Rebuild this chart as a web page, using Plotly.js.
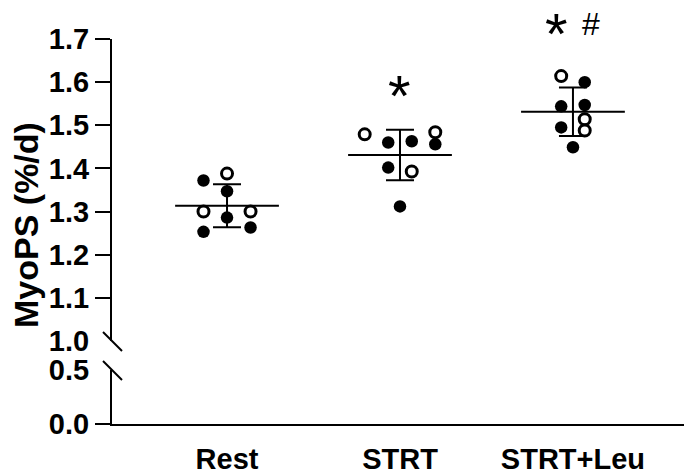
<!DOCTYPE html>
<html>
<head>
<meta charset="utf-8">
<script src="https://cdn.plot.ly/plotly-3.0.1.min.js"></script>
<style>html,body{margin:0;padding:0;background:#fff;}#chart{width:684px;height:476px;}</style>
</head>
<body>
<div id="chart"></div>
<script>
// ---- data ----
const categories = ['Rest', 'STRT', 'STRT+Leu'];
const restValues = [1.372, 1.388, 1.347, 1.300, 1.286, 1.300, 1.253, 1.263];
const restOpen   = [false, true, false, true, false, true, false, false];
const restSlots  = [-1, 0, 0, -1, 0, 1, -1, 1];
const strtValues = [1.479, 1.460, 1.463, 1.484, 1.456, 1.402, 1.393, 1.312];
const strtOpen   = [true, false, false, true, false, false, true, false];
const strtSlots  = [-1.5, -0.5, 0.5, 1.5, 1.5, -0.5, 0.5, 0];
const leuValues  = [1.614, 1.600, 1.544, 1.547, 1.514, 1.495, 1.488, 1.449];
const leuOpen    = [true, false, false, false, true, false, true, false];
const leuSlots   = [-0.5, 0.5, -0.5, 0.5, 0.5, -0.5, 0.5, 0];
const topTicks = [1.0, 1.1, 1.2, 1.3, 1.4, 1.5, 1.6, 1.7];
const bottomTicks = [0.0, 0.5];

const groups = [
  {values: restValues, open: restOpen, slots: restSlots},
  {values: strtValues, open: strtOpen, slots: strtSlots},
  {values: leuValues,  open: leuOpen,  slots: leuSlots}
];

const FONT = 'Liberation Sans, Arial, Helvetica, sans-serif';
const slotW = 0.136;     // x units per slot
const meanHalf = 0.30;   // half-length of mean line

function mean(a){ return a.reduce((s,v)=>s+v,0)/a.length; }
function sd(a){ const m=mean(a); return Math.sqrt(a.reduce((s,v)=>s+(v-m)*(v-m),0)/(a.length-1)); }

const traces = [];
// empty trace so the lower (0–0.5) axis segment is registered and drawn
traces.push({x:[], y:[], xaxis:'x', yaxis:'y', mode:'markers', hoverinfo:'skip'});
groups.forEach((g, i) => {
  const m = mean(g.values), s = sd(g.values);
  traces.push({x:[i-meanHalf, i+meanHalf], y:[m, m], mode:'lines', xaxis:'x', yaxis:'y2',
    line:{color:'#000', width:2}, hoverinfo:'skip', cliponaxis:false});
  traces.push({x:[i], y:[m], mode:'markers', xaxis:'x', yaxis:'y2', marker:{size:1, color:'rgba(0,0,0,0)'},
    error_y:{type:'data', array:[s], visible:true, color:'#000', thickness:2, width:14}, hoverinfo:'skip', cliponaxis:false});
});
groups.forEach((g, i) => {
  const fx=[], fy=[], ox=[], oy=[];
  g.values.forEach((v, k) => {
    const x = i + g.slots[k]*slotW;
    if (g.open[k]) { ox.push(x); oy.push(v); } else { fx.push(x); fy.push(v); }
  });
  traces.push({x:fx, y:fy, mode:'markers', xaxis:'x', yaxis:'y2', cliponaxis:false,
    marker:{symbol:'circle', size:12.5, color:'#000', line:{color:'#000', width:0}}});
  traces.push({x:ox, y:oy, mode:'markers', xaxis:'x', yaxis:'y2', cliponaxis:false,
    marker:{symbol:'circle', size:11, color:'#fff', line:{color:'#000', width:3}}});
});

const tickFont = {family: FONT, size: 29, color: '#000', weight: 'bold'};
const fmt = v => v.toFixed(1);
const axisCommon = {showline:true, linecolor:'#000', linewidth:2, showgrid:false, zeroline:false,
  ticks:'outside', ticklen:15, tickwidth:2, tickcolor:'#000', tickfont:tickFont, fixedrange:true};

const topDomainBottom = 0.2156, bottomDomainTop = 0.1403;

// axis-break marks: hide the tick at each break and draw a slash there
const breakShapes = [];
[topDomainBottom, bottomDomainTop].forEach(yp => {
  breakShapes.push({type:'line', xref:'paper', xsizemode:'pixel', xanchor:0, x0:-18, x1:-2,
    yref:'paper', ysizemode:'pixel', yanchor:yp, y0:0, y1:0, line:{color:'#fff', width:5}, layer:'above'});
  breakShapes.push({type:'line', xref:'paper', xsizemode:'pixel', xanchor:0, x0:-9, x1:10,
    yref:'paper', ysizemode:'pixel', yanchor:yp, y0:9, y1:-10, line:{color:'#000', width:2}, layer:'above'});
});

const layout = {
  width: 684, height: 476,
  margin: {l:112, r:0, t:39, b:52, pad:0},
  paper_bgcolor:'#fff', plot_bgcolor:'#fff',
  showlegend:false,
  xaxis: {range:[-0.665, 2.642], tickvals:[0,1,2], ticktext:categories, anchor:'y',
    showline:true, linecolor:'#000', linewidth:2, showgrid:false, zeroline:false,
    ticks:'outside', ticklen:8, tickcolor:'rgba(0,0,0,0)', tickfont:tickFont, fixedrange:true},
  yaxis: Object.assign({}, axisCommon, {domain:[0, bottomDomainTop], range:[0, 0.5], anchor:'x',
    tickvals:bottomTicks, ticktext:bottomTicks.map(fmt)}),
  yaxis2: Object.assign({}, axisCommon, {domain:[topDomainBottom, 1], range:[1.0, 1.7], anchor:'x',
    tickvals:topTicks, ticktext:topTicks.map(fmt)}),
  shapes: breakShapes,
  annotations: [
    {text:'MyoPS (%/d)', xref:'paper', yref:'paper', x:-0.1503, y:0.517, textangle:-90,
     showarrow:false, font:{family:FONT, size:34, color:'#000', weight:'bold'}, xanchor:'center', yanchor:'middle'},
    {text:'*', xref:'x', yref:'y2', x:1, y:1.588, showarrow:false, yshift:-8, yanchor:'middle',
     font:{family:FONT, size:58, color:'#000'}},
    {text:'*', xref:'x', yref:'paper', x:2, y:1.036, showarrow:false, xshift:-16, yshift:-8, yanchor:'middle',
     font:{family:FONT, size:58, color:'#000'}},
    {text:'#', xref:'x', yref:'paper', x:2, y:1.036, showarrow:false, xshift:18, yshift:1, yanchor:'middle',
     font:{family:FONT, size:32, color:'#000'}}
  ]
};

Plotly.newPlot('chart', traces, layout, {staticPlot:true, displayModeBar:false});
</script>
</body>
</html>
